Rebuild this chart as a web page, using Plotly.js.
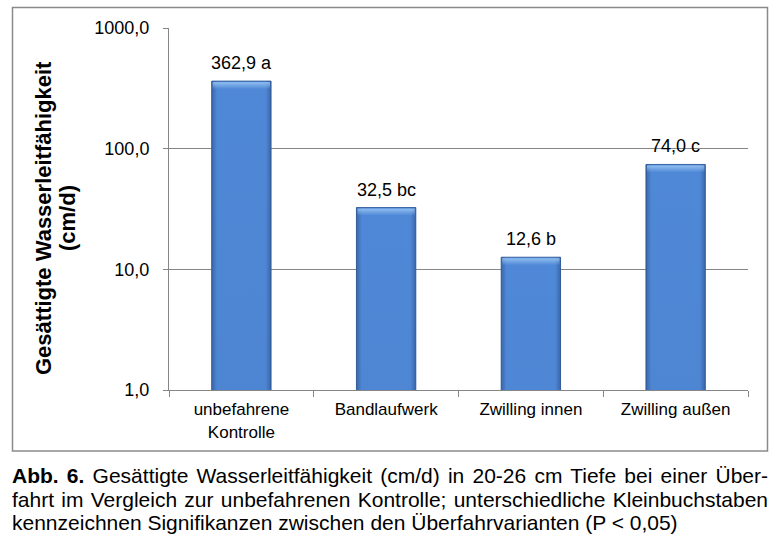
<!DOCTYPE html>
<html>
<head>
<meta charset="utf-8">
<script src="https://cdn.plot.ly/plotly-3.0.1.min.js"></script>
<style>
  html, body { margin: 0; padding: 0; background: #fff; }
  #wrap { position: relative; width: 781px; height: 546px; overflow: hidden; }
  #chart { position: absolute; left: 0; top: 0; width: 781px; height: 546px; }
  #caption { position: absolute; left: 12px; top: 464px; width: 756px;
    font-family: Arial, "Liberation Sans", sans-serif; font-size: 21px; line-height: 23.5px; color: #000; }
  #caption div.j { text-align: justify; text-align-last: justify; white-space: nowrap; }
  #caption div.l { text-align: left; white-space: nowrap; }
</style>
</head>
<body>
<div id="wrap">
  <div id="chart"></div>
  <div id="caption"></div>
</div>
<script>
// ---- data ----
const categories = ["unbefahrene<br>Kontrolle", "Bandlaufwerk", "Zwilling innen", "Zwilling außen"];
const values = [362.9, 32.5, 12.6, 74.0];
const letters = ["a", "bc", "b", "c"];
const yTickVals = [1, 10, 100, 1000];
const yTickText = ["1,0", "10,0", "100,0", "1000,0"];
const yTitleLines = ["Gesättigte Wasserleitfähigkeit", "(cm/d)"];
const captionBold = "Abb. 6.";
const captionLines = [
  " Gesättigte Wasserleitfähigkeit (cm/d) in 20-26 cm Tiefe bei einer Über-",
  "fahrt im Vergleich zur unbefahrenen Kontrolle; unterschiedliche Kleinbuchstaben",
  "kennzeichnen Signifikanzen zwischen den Überfahrvarianten (P < 0,05)"
];

const FONT = 'Arial, "Liberation Sans", sans-serif';
const fmt = v => v.toFixed(1).replace('.', ',');

// plot area in pixels
const W = 781, H = 546;
const L = 169, R = 748, T = 28, B = 390;
const px = x => (x - L) / (R - L);
const py = y => (B - y) / (B - T);

const trace = {
  type: 'bar',
  x: categories,
  y: values,
  width: 0.41,
  marker: { color: '#4579c2', line: { color: '#3a64a3', width: 1 } },
  hoverinfo: 'skip'
};

const annotations = categories.map((c, i) => ({
  x: c, y: Math.log10(values[i]), xref: 'x', yref: 'y',
  text: fmt(values[i]) + ' ' + letters[i],
  showarrow: false, xanchor: 'center', yanchor: 'bottom', yshift: 6,
  font: { family: FONT, size: 18, color: '#000' }
}));
annotations.push({
  xref: 'paper', yref: 'paper', x: px(43), y: py(218), textangle: -90,
  text: yTitleLines[0], showarrow: false, xanchor: 'center', yanchor: 'middle',
  font: { family: FONT, size: 22, color: '#000', weight: 700 }
});
annotations.push({
  xref: 'paper', yref: 'paper', x: px(67), y: py(218), textangle: -90,
  text: yTitleLines[1], showarrow: false, xanchor: 'center', yanchor: 'middle',
  font: { family: FONT, size: 22, color: '#000', weight: 700 }
});

const layout = {
  width: W, height: H,
  margin: { l: L, r: W - R, t: T, b: H - B, autoexpand: false },
  paper_bgcolor: '#fff', plot_bgcolor: '#fff',
  showlegend: false,
  font: { family: FONT, color: '#000' },
  xaxis: {
    type: 'category',
    showline: true, linecolor: '#868686', linewidth: 1,
    ticks: 'outside', tickson: 'boundaries', ticklen: 6, tickcolor: '#868686',
    showgrid: false, zeroline: false,
    tickfont: { family: FONT, size: 17, color: '#000' },
    ticklabelstandoff: 4,
    fixedrange: true
  },
  yaxis: {
    type: 'log', range: [0, 3],
    tickvals: yTickVals, ticktext: yTickText,
    showline: true, linecolor: '#868686', linewidth: 1,
    ticks: 'outside', ticklen: 5, tickcolor: '#868686',
    showgrid: true, gridcolor: '#868686', gridwidth: 1,
    zeroline: false,
    tickfont: { family: FONT, size: 18, color: '#000' },
    ticklabelstandoff: 10,
    fixedrange: true
  },
  shapes: [{
    type: 'rect', xref: 'paper', yref: 'paper',
    x0: px(12.5), x1: px(767.5), y0: py(451), y1: py(7.5),
    line: { color: '#8a8a8a', width: 1.5 }, fillcolor: 'rgba(0,0,0,0)', layer: 'below'
  }],
  annotations: annotations
};

Plotly.newPlot('chart', [trace], layout, { staticPlot: true, displayModeBar: false }).then(gd => {
  // bar shading: vertical gradient with bevelled edges
  const NS = 'http://www.w3.org/2000/svg';
  const svg = gd.querySelector('.main-svg');
  let defs = svg.querySelector('defs');
  if (!defs) { defs = document.createElementNS(NS, 'defs'); svg.insertBefore(defs, svg.firstChild); }
  function grad(id, x2, y2, stops) {
    const g = document.createElementNS(NS, 'linearGradient');
    g.setAttribute('id', id); g.setAttribute('x1', '0'); g.setAttribute('y1', '0');
    g.setAttribute('x2', x2); g.setAttribute('y2', y2);
    stops.forEach(s => {
      const st = document.createElementNS(NS, 'stop');
      st.setAttribute('offset', s[0]); st.setAttribute('stop-color', s[1]);
      st.setAttribute('stop-opacity', s[2]);
      g.appendChild(st);
    });
    defs.appendChild(g);
  }
  grad('barBody', '0', '1', [['0', '#4f88d6', 1], ['1', '#3a67ad', 1]]);
  grad('barSide', '1', '0', [['0', '#1f3f73', 0.45], ['0.09', '#1f3f73', 0], ['0.91', '#1f3f73', 0], ['1', '#1f3f73', 0.45]]);
  grad('barTop', '0', '1', [['0', '#9cc8f5', 0.85], ['1', '#9cc8f5', 0]]);
  gd.querySelectorAll('.bars .point path').forEach(p => {
    p.style.fill = 'url(#barBody)';
    const side = p.cloneNode(true);
    side.style.fill = 'url(#barSide)';
    side.style.stroke = 'none';
    p.parentNode.appendChild(side);
    const bb = p.getBBox();
    const hi = document.createElementNS(NS, 'rect');
    hi.setAttribute('x', bb.x + 1); hi.setAttribute('y', bb.y + 1);
    hi.setAttribute('width', Math.max(0, bb.width - 2)); hi.setAttribute('height', 7);
    hi.setAttribute('fill', 'url(#barTop)');
    p.parentNode.appendChild(hi);
  });
});

// caption
const cap = document.getElementById('caption');
captionLines.forEach((line, i) => {
  const d = document.createElement('div');
  d.className = i < captionLines.length - 1 ? 'j' : 'l';
  if (i === 0) {
    const b = document.createElement('b');
    b.textContent = captionBold;
    d.appendChild(b);
  }
  d.appendChild(document.createTextNode(line));
  cap.appendChild(d);
});
</script>
</body>
</html>
